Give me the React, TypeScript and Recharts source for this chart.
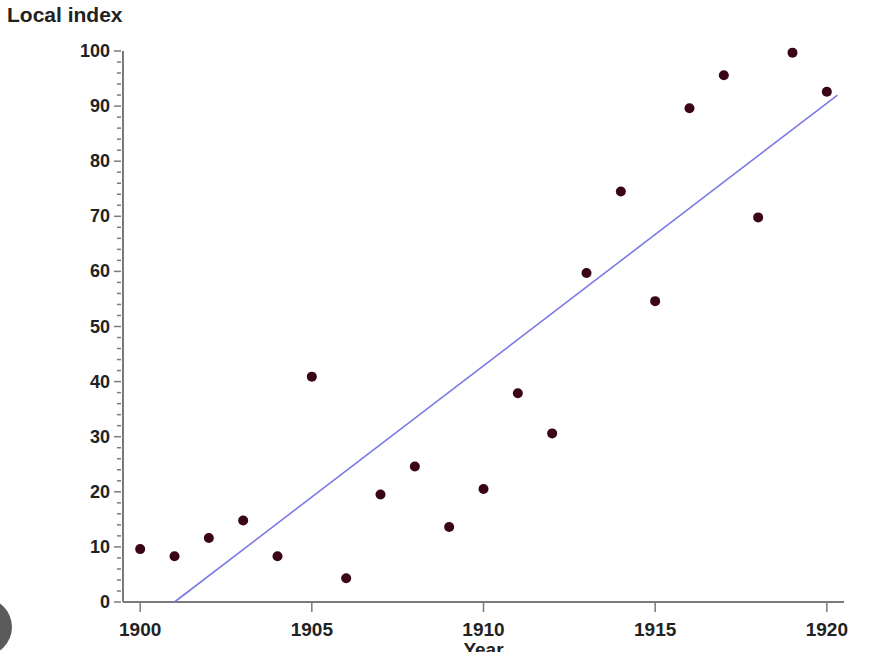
import { ScatterChart, Scatter, XAxis, YAxis } from "recharts";

const years = [
  1900, 1901, 1902, 1903, 1904, 1905, 1906, 1907, 1908, 1909, 1910, 1911, 1912,
  1913, 1914, 1915, 1916, 1917, 1918, 1919, 1920,
];
const localIndex = [
  9.6, 8.3, 11.6, 14.8, 8.3, 40.9, 4.3, 19.5, 24.6, 13.6, 20.5, 37.9, 30.6,
  59.7, 74.5, 54.6, 89.6, 95.6, 69.8, 99.7, 92.6,
];

// fitted trend line, endpoints
const fitYears = [1901.0, 1920.31];
const fitValues = [0, 92.0];

const xTicks = [1900, 1905, 1910, 1915, 1920];
const yTicks = [
  0, 2, 4, 6, 8, 10, 12, 14, 16, 18, 20, 22, 24, 26, 28, 30, 32, 34, 36, 38,
  40, 42, 44, 46, 48, 50, 52, 54, 56, 58, 60, 62, 64, 66, 68, 70, 72, 74, 76,
  78, 80, 82, 84, 86, 88, 90, 92, 94, 96, 98, 100,
];

const points = years.map((year, i) => ({ year, value: localIndex[i] }));
const fit = fitYears.map((year, i) => ({ year, value: fitValues[i] }));

const axisColor = "#7a7a7a";
const font = "'Liberation Sans', Arial, sans-serif";

const YTick = (props: any) => {
  const { x, y, payload } = props;
  const major = payload.value % 10 === 0;
  const ax = x + 6;
  return (
    <g>
      <line
        x1={ax - (major ? 7 : 4)}
        x2={ax}
        y1={y}
        y2={y}
        stroke={axisColor}
        strokeWidth={1.5}
      />
      {major && (
        <text
          x={ax - 11}
          y={y + 6}
          textAnchor="end"
          fontSize={18}
          fontWeight="bold"
          fontFamily={font}
          fill="#222"
        >
          {payload.value}
        </text>
      )}
    </g>
  );
};

const XTick = (props: any) => {
  const { x, y, payload } = props;
  const ay = y - 8;
  return (
    <g>
      <line x1={x} x2={x} y1={ay} y2={ay + 10} stroke={axisColor} strokeWidth={1.5} />
      <text
        x={x}
        y={ay + 34}
        textAnchor="middle"
        fontSize={19}
        fontWeight="bold"
        fontFamily={font}
        fill="#222"
      >
        {payload.value}
      </text>
    </g>
  );
};

const Dot = (props: any) => {
  const { cx, cy } = props;
  return <circle cx={cx} cy={cy} r={5} fill="#3a0514" />;
};

export default function App() {
  return (
    <div
      style={{
        position: "absolute",
        left: 0,
        top: 0,
        width: 884,
        height: 652,
        background: "#fff",
        overflow: "hidden",
        fontFamily: font,
      }}
    >
      <div
        style={{
          position: "absolute",
          left: 7,
          top: 3,
          fontSize: 21,
          fontWeight: "bold",
          color: "#222",
        }}
      >
        Local index
      </div>
      <ScatterChart
        width={884}
        height={652}
        margin={{ top: 51, right: 40, left: 63, bottom: 20 }}
      >
        <XAxis
          type="number"
          dataKey="year"
          domain={[1899.5, 1920.5]}
          ticks={xTicks}
          tick={<XTick />}
          tickLine={false}
          axisLine={{ stroke: axisColor, strokeWidth: 2 }}
          height={30}
          interval={0}
          label={{
            value: "Year",
            position: "insideBottom",
            offset: -24,
            fontSize: 19,
            fontWeight: "bold",
            fill: "#222",
            fontFamily: font,
          }}
        />
        <YAxis
          type="number"
          dataKey="value"
          domain={[0, 100]}
          ticks={yTicks}
          tick={<YTick />}
          tickLine={false}
          axisLine={{ stroke: axisColor, strokeWidth: 2 }}
          width={60}
          interval={0}
        />
        <Scatter
          data={fit}
          line={{ stroke: "#7b7be6", strokeWidth: 1.6 }}
          shape={() => <g />}
          isAnimationActive={false}
        />
        <Scatter data={points} shape={<Dot />} isAnimationActive={false} />
      </ScatterChart>
      <div
        style={{
          position: "absolute",
          left: -46,
          top: 598,
          width: 58,
          height: 58,
          borderRadius: "50%",
          background: "#5b5b5b",
        }}
      />
    </div>
  );
}
